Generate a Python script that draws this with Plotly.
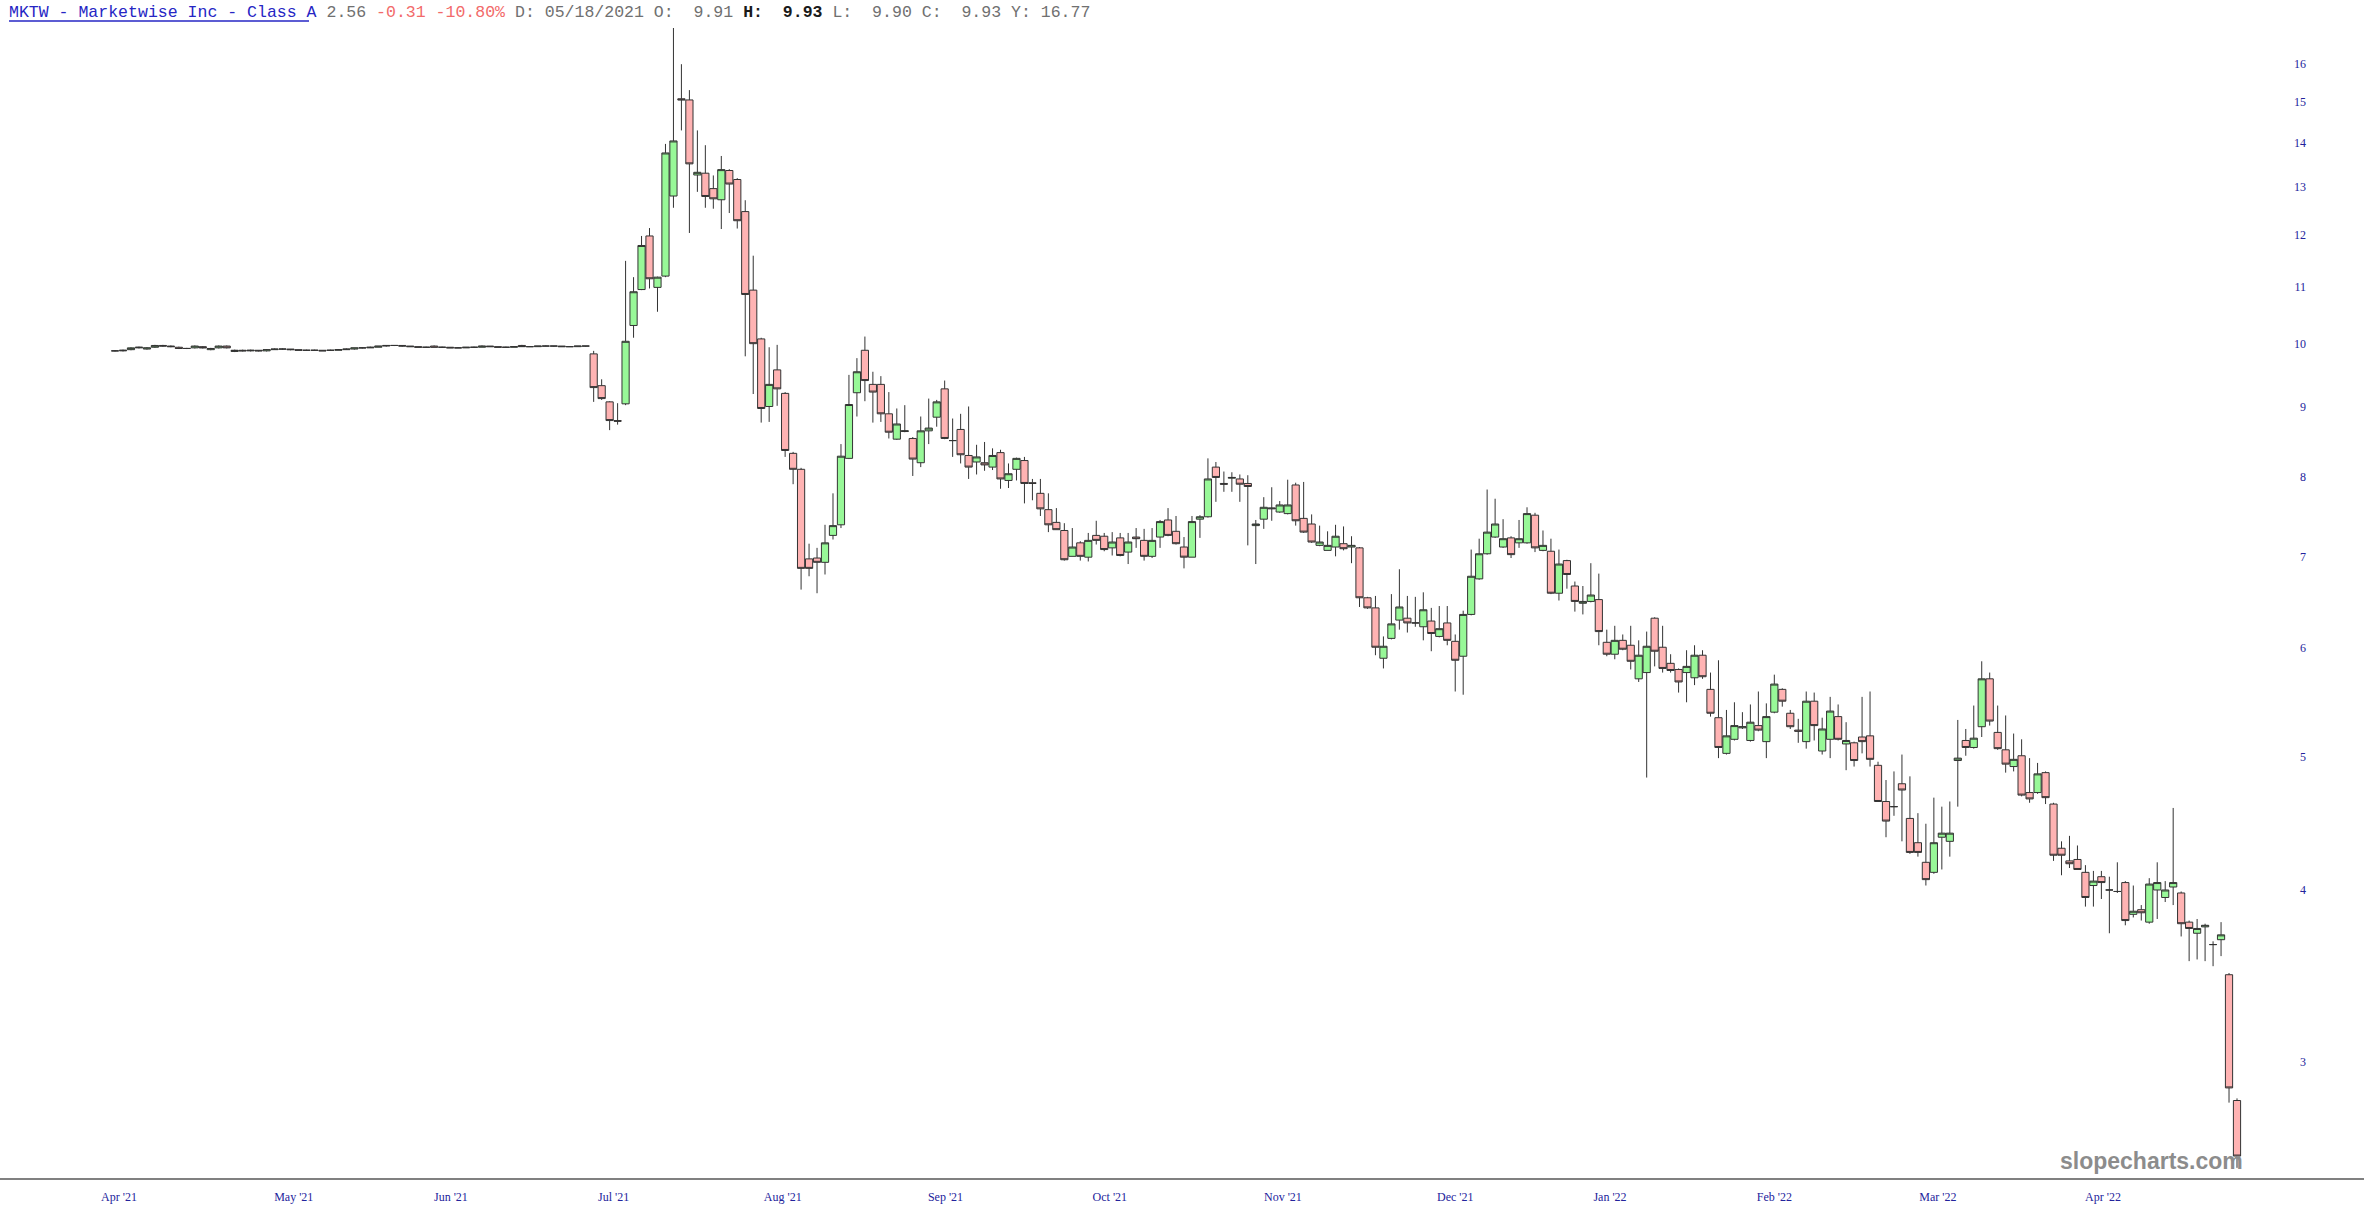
import plotly.graph_objects as go

# ---------------- data ----------------
month_labels = ["Apr '21", "May '21", "Jun '21", "Jul '21", "Aug '21", "Sep '21", "Oct '21",
                "Nov '21", "Dec '21", "Jan '22", "Feb '22", "Mar '22", "Apr '22"]
month_tick_idx = [0.5, 22.4, 42.1, 62.5, 83.7, 104.1, 124.7, 146.4, 168.0, 187.4, 208.0, 228.5, 249.2]
y_ticks = [3, 4, 5, 6, 7, 8, 9, 10, 11, 12, 13, 14, 15, 16]

opens = [
    9.88, 9.88, 9.90, 9.93, 9.91, 9.94, 9.97, 9.96, 9.94, 9.92,
    9.93, 9.95, 9.90, 9.93, 9.96, 9.87, 9.89, 9.88, 9.89, 9.88,
    9.90, 9.91, 9.91, 9.90, 9.89, 9.89, 9.89, 9.89, 9.89, 9.90,
    9.91, 9.93, 9.93, 9.94, 9.96, 9.97, 9.97, 9.96, 9.95, 9.94,
    9.96, 9.94, 9.94, 9.93, 9.93, 9.94, 9.94, 9.96, 9.95, 9.94,
    9.94, 9.97, 9.95, 9.95, 9.96, 9.96, 9.96, 9.95, 9.95, 9.96,
    9.83, 9.32, 9.07, 8.79, 9.04, 10.31, 10.95, 11.98, 10.99, 11.20,
    12.81, 15.08, 15.05, 13.27, 13.31, 12.97, 12.73, 13.37, 13.17, 12.48,
    10.94, 10.08, 9.00, 9.57, 9.20, 8.32, 8.10, 6.97, 6.98, 6.93,
    7.25, 7.38, 8.25, 9.21, 9.89, 9.34, 9.34, 8.89, 8.52, 8.63,
    8.53, 8.19, 8.64, 8.84, 9.27, 8.50, 8.66, 8.29, 8.20, 8.19,
    8.13, 8.33, 7.95, 8.10, 8.22, 7.92, 7.78, 7.57, 7.41, 7.31,
    7.00, 7.16, 6.99, 7.25, 7.24, 7.10, 7.22, 7.05, 7.23, 7.19,
    7.00, 7.23, 7.44, 7.30, 7.11, 6.99, 7.45, 7.48, 8.13, 7.91,
    7.98, 7.97, 7.91, 7.37, 7.45, 7.58, 7.54, 7.52, 7.89, 7.46,
    7.39, 7.13, 7.07, 7.11, 7.15, 7.11, 7.10, 6.53, 6.42, 5.90,
    6.10, 6.29, 6.31, 6.26, 6.22, 6.28, 6.12, 6.26, 6.07, 5.92,
    6.35, 6.74, 7.03, 7.23, 7.11, 7.22, 7.16, 7.16, 7.50, 7.07,
    7.06, 6.58, 6.95, 6.66, 6.47, 6.49, 6.51, 6.06, 5.94, 6.08,
    6.03, 5.70, 5.76, 6.31, 6.01, 5.85, 5.79, 5.76, 5.71, 5.93,
    5.60, 5.34, 5.03, 5.15, 5.25, 5.14, 5.27, 5.13, 5.39, 5.60,
    5.38, 5.23, 5.13, 5.49, 5.05, 5.15, 5.35, 5.11, 5.12, 5.17,
    5.18, 4.93, 4.64, 4.60, 4.78, 4.51, 4.33, 4.19, 4.12, 4.37,
    4.34, 4.97, 5.14, 5.08, 5.26, 5.70, 5.21, 5.06, 4.92, 5.01,
    4.71, 4.71, 4.87, 4.62, 4.29, 4.20, 4.21, 4.12, 4.03, 4.09,
    4.00, 3.99, 4.05, 3.84, 3.87, 3.79, 4.00, 3.95, 4.02, 3.98,
    3.79, 3.72, 3.76, 3.65, 3.68, 3.47, 2.81,
]
highs = [
    9.89, 9.90, 9.94, 9.95, 9.94, 9.98, 9.98, 9.97, 9.95, 9.93,
    9.97, 9.96, 9.93, 9.97, 9.97, 9.90, 9.90, 9.90, 9.89, 9.91,
    9.92, 9.92, 9.91, 9.90, 9.90, 9.90, 9.89, 9.90, 9.91, 9.92,
    9.93, 9.94, 9.95, 9.96, 9.97, 9.97, 9.97, 9.96, 9.95, 9.95,
    9.97, 9.95, 9.94, 9.94, 9.94, 9.95, 9.97, 9.96, 9.95, 9.95,
    9.95, 9.98, 9.96, 9.96, 9.97, 9.96, 9.96, 9.96, 9.96, 9.96,
    9.88, 9.42, 9.08, 9.05, 11.49, 11.18, 11.98, 12.14, 11.19, 13.98,
    17.00, 15.98, 15.30, 14.30, 13.95, 13.26, 13.70, 13.40, 13.20, 12.72,
    11.59, 10.10, 9.94, 9.98, 9.22, 8.34, 8.12, 7.15, 7.10, 7.38,
    7.78, 8.45, 9.49, 9.76, 10.12, 9.54, 9.47, 9.22, 8.97, 9.02,
    8.55, 8.85, 9.12, 9.10, 9.40, 8.82, 8.89, 9.00, 8.44, 8.48,
    8.39, 8.37, 8.18, 8.26, 8.27, 7.97, 7.97, 7.78, 7.59, 7.40,
    7.34, 7.18, 7.28, 7.43, 7.28, 7.29, 7.28, 7.28, 7.34, 7.33,
    7.34, 7.44, 7.59, 7.49, 7.23, 7.49, 7.50, 8.25, 8.20, 8.07,
    8.06, 8.03, 8.02, 7.44, 7.73, 7.86, 7.68, 7.96, 7.92, 7.93,
    7.51, 7.37, 7.30, 7.38, 7.36, 7.24, 7.11, 6.54, 6.55, 6.12,
    6.57, 6.85, 6.55, 6.54, 6.59, 6.42, 6.44, 6.44, 6.14, 6.39,
    7.08, 7.21, 7.83, 7.71, 7.45, 7.24, 7.44, 7.60, 7.53, 7.31,
    7.21, 7.08, 6.96, 6.71, 6.66, 6.92, 6.80, 6.19, 6.23, 6.14,
    6.23, 6.08, 6.17, 6.32, 6.23, 5.94, 5.80, 5.98, 6.03, 5.98,
    5.76, 5.88, 5.41, 5.48, 5.39, 5.46, 5.58, 5.47, 5.74, 5.61,
    5.41, 5.33, 5.58, 5.57, 5.34, 5.53, 5.46, 5.30, 5.13, 5.53,
    5.58, 4.96, 4.81, 4.88, 5.02, 4.84, 4.55, 4.47, 4.67, 4.60,
    4.64, 5.32, 5.24, 5.45, 5.87, 5.76, 5.45, 5.36, 5.20, 5.15,
    4.99, 4.95, 4.88, 4.63, 4.34, 4.38, 4.31, 4.17, 4.13, 4.13,
    4.09, 4.19, 4.06, 4.03, 3.90, 4.08, 4.19, 4.06, 4.59, 3.99,
    3.80, 3.81, 3.78, 3.67, 3.79, 3.48, 2.82,
]
lows = [
    9.87, 9.87, 9.89, 9.92, 9.90, 9.93, 9.95, 9.94, 9.91, 9.91,
    9.92, 9.92, 9.89, 9.92, 9.92, 9.86, 9.87, 9.87, 9.87, 9.87,
    9.90, 9.90, 9.89, 9.89, 9.88, 9.88, 9.88, 9.88, 9.89, 9.90,
    9.90, 9.92, 9.93, 9.94, 9.95, 9.96, 9.95, 9.95, 9.94, 9.94,
    9.94, 9.93, 9.93, 9.93, 9.93, 9.93, 9.94, 9.95, 9.94, 9.94,
    9.94, 9.95, 9.95, 9.95, 9.96, 9.95, 9.95, 9.95, 9.95, 9.95,
    9.07, 9.10, 8.65, 8.73, 9.02, 10.10, 10.94, 10.97, 10.55, 11.18,
    12.56, 14.30, 12.04, 12.90, 12.56, 12.54, 12.12, 12.45, 12.13, 9.79,
    9.19, 8.76, 8.77, 9.01, 8.27, 7.90, 6.62, 6.77, 6.58, 6.79,
    7.20, 7.34, 8.24, 8.85, 9.08, 8.76, 8.77, 8.53, 8.51, 8.62,
    8.01, 8.13, 8.45, 8.70, 8.52, 8.27, 8.18, 7.97, 8.03, 8.08,
    8.09, 7.84, 7.85, 7.95, 7.65, 7.69, 7.49, 7.29, 7.32, 6.95,
    7.00, 6.95, 6.94, 7.14, 7.06, 7.01, 7.00, 6.91, 7.10, 6.95,
    6.98, 7.10, 7.24, 7.14, 6.86, 6.99, 7.22, 7.47, 7.67, 7.80,
    7.80, 7.67, 7.13, 6.91, 7.33, 7.43, 7.53, 7.51, 7.37, 7.28,
    7.16, 7.12, 7.07, 7.00, 7.07, 6.92, 6.43, 6.41, 5.93, 5.80,
    6.09, 6.19, 6.16, 6.22, 6.08, 5.97, 6.11, 6.03, 5.58, 5.55,
    6.34, 6.73, 7.02, 7.22, 7.10, 6.98, 7.10, 7.15, 7.05, 7.06,
    6.57, 6.50, 6.63, 6.38, 6.35, 6.48, 6.03, 5.92, 5.89, 5.98,
    5.79, 5.67, 4.83, 5.82, 5.76, 5.76, 5.57, 5.48, 5.64, 5.70,
    5.35, 4.99, 5.02, 5.14, 5.24, 5.13, 5.22, 4.99, 5.38, 5.44,
    5.24, 5.12, 5.07, 5.14, 5.02, 4.99, 5.14, 4.89, 4.92, 5.03,
    4.92, 4.64, 4.37, 4.53, 4.34, 4.25, 4.23, 4.03, 4.11, 4.14,
    4.23, 4.60, 5.01, 5.07, 5.17, 5.27, 5.06, 4.87, 4.88, 4.68,
    4.63, 4.70, 4.62, 4.20, 4.10, 4.15, 4.14, 3.89, 3.89, 3.94,
    3.72, 3.98, 3.77, 3.82, 3.80, 3.78, 3.81, 3.92, 3.90, 3.70,
    3.55, 3.56, 3.55, 3.52, 3.58, 2.80, 2.51,
]
closes = [
    9.88, 9.89, 9.93, 9.94, 9.93, 9.97, 9.96, 9.95, 9.92, 9.92,
    9.96, 9.93, 9.92, 9.96, 9.93, 9.89, 9.88, 9.89, 9.88, 9.90,
    9.91, 9.91, 9.90, 9.89, 9.89, 9.89, 9.88, 9.89, 9.90, 9.91,
    9.93, 9.93, 9.94, 9.96, 9.97, 9.97, 9.96, 9.95, 9.94, 9.94,
    9.94, 9.94, 9.93, 9.93, 9.94, 9.94, 9.96, 9.95, 9.94, 9.94,
    9.95, 9.95, 9.95, 9.96, 9.96, 9.96, 9.95, 9.95, 9.96, 9.96,
    9.29, 9.12, 8.79, 8.78, 10.04, 10.91, 11.79, 11.15, 11.18, 13.77,
    14.05, 15.05, 13.52, 13.33, 12.80, 12.75, 13.39, 13.07, 12.29, 10.86,
    10.00, 8.97, 9.34, 9.27, 8.36, 8.10, 6.86, 6.86, 6.93, 7.16,
    7.37, 8.28, 9.03, 9.54, 9.40, 9.22, 8.89, 8.62, 8.74, 8.64,
    8.24, 8.64, 8.68, 9.07, 8.53, 8.50, 8.30, 8.13, 8.27, 8.16,
    8.29, 7.97, 8.04, 8.25, 7.91, 7.91, 7.58, 7.38, 7.32, 6.96,
    7.11, 7.00, 7.19, 7.19, 7.08, 7.17, 7.01, 7.17, 7.21, 7.00,
    7.19, 7.42, 7.25, 7.15, 6.99, 7.42, 7.48, 7.97, 7.99, 7.90,
    7.99, 7.90, 7.87, 7.39, 7.60, 7.59, 7.63, 7.63, 7.43, 7.29,
    7.17, 7.17, 7.13, 7.24, 7.09, 7.13, 6.53, 6.42, 6.01, 6.02,
    6.25, 6.43, 6.26, 6.26, 6.40, 6.15, 6.20, 6.08, 5.88, 6.35,
    6.77, 7.03, 7.29, 7.39, 7.21, 7.02, 7.21, 7.52, 7.10, 7.13,
    6.58, 6.91, 6.79, 6.49, 6.49, 6.56, 6.17, 5.94, 6.08, 5.99,
    5.87, 5.93, 6.02, 5.97, 5.80, 5.78, 5.67, 5.82, 5.93, 5.72,
    5.38, 5.08, 5.18, 5.27, 5.26, 5.30, 5.23, 5.35, 5.65, 5.49,
    5.26, 5.22, 5.49, 5.27, 5.24, 5.40, 5.15, 5.14, 4.97, 5.13,
    4.98, 4.64, 4.49, 4.60, 4.73, 4.26, 4.26, 4.07, 4.33, 4.40,
    4.40, 4.99, 5.08, 5.16, 5.70, 5.31, 5.07, 4.94, 4.98, 4.69,
    4.66, 4.86, 4.67, 4.24, 4.24, 4.18, 4.14, 3.95, 4.06, 4.05,
    4.00, 3.99, 3.80, 3.86, 3.85, 4.04, 4.05, 4.00, 4.05, 3.78,
    3.75, 3.75, 3.77, 3.65, 3.71, 2.87, 2.56,
]

x_idx = list(range(len(opens)))

# ---------------- figure ----------------
W, H = 2364, 1218
M_T, M_B = 28, 40
plot_h = H - M_T - M_B

fig = go.Figure()
fig.add_trace(go.Candlestick(
    x=x_idx, open=opens, high=highs, low=lows, close=closes,
    increasing=dict(fillcolor="#98f898", line=dict(color="#333333", width=1)),
    decreasing=dict(fillcolor="#ffb3b3", line=dict(color="#333333", width=1)),
    whiskerwidth=0, hoverinfo="skip", showlegend=False,
))

axis_font = dict(family="Liberation Serif, Times New Roman, serif", size=12, color="#23239c")

fig.update_layout(
    width=W, height=H,
    margin=dict(l=0, r=0, t=M_T, b=M_B, pad=0),
    paper_bgcolor="white", plot_bgcolor="white",
    showlegend=False,
    boxgap=0.04, boxgroupgap=0.06,
    xaxis=dict(
        range=[-14.42, 281.92],
        tickmode="array", tickvals=month_tick_idx, ticktext=month_labels,
        showgrid=False, zeroline=False, showline=True,
        linecolor="#808080", linewidth=2, ticks="",
        tickfont=axis_font, ticklabelstandoff=7,
        rangeslider=dict(visible=False), fixedrange=True,
    ),
    yaxis=dict(
        type="log", range=[0.39226, 1.22994],
        side="right", tickmode="array", tickvals=y_ticks,
        ticktext=[str(v) for v in y_ticks],
        ticklabelposition="inside", ticklabelstandoff=55,
        showgrid=False, zeroline=False, showline=False, ticks="",
        tickfont=axis_font, fixedrange=True,
    ),
)

header = (
    '<span style="color:#2626c4">MKTW - Marketwise Inc - Class A</span>'
    '<span style="color:#707070"> 2.56 </span>'
    '<span style="color:#f26a6a">-0.31 -10.80%</span>'
    '<span style="color:#707070"> D: 05/18/2021 O:  9.91 </span>'
    '<span style="color:#1a1a1a"><b>H:  9.93</b></span>'
    '<span style="color:#707070"> L:  9.90 C:  9.93 Y: 16.77</span>'
)
fig.add_annotation(
    text=header, xref="paper", yref="paper",
    x=7 / W, y=1 + (M_T - 12) / plot_h, xanchor="left", yanchor="middle",
    showarrow=False, font=dict(family="Liberation Mono, Courier New, monospace", size=16.55),
)
fig.add_shape(
    type="line", xref="paper", yref="paper",
    x0=9 / W, x1=309 / W, y0=1 + (M_T - 21) / plot_h, y1=1 + (M_T - 21) / plot_h,
    line=dict(color="#2626c4", width=1.5),
)
fig.add_annotation(
    text="<b>slopecharts.com</b>", xref="paper", yref="paper",
    x=2245 / W, y=(H - M_B - 1161) / plot_h, xanchor="right", yanchor="middle",
    showarrow=False, font=dict(family="Liberation Sans, Arial, sans-serif", size=23, color="#8c8c8c"),
)

fig.write_html(
    "out.html",
    config={"displayModeBar": False, "staticPlot": True},
    post_script="document.body.style.margin='0';document.body.style.overflow='hidden';",
)
